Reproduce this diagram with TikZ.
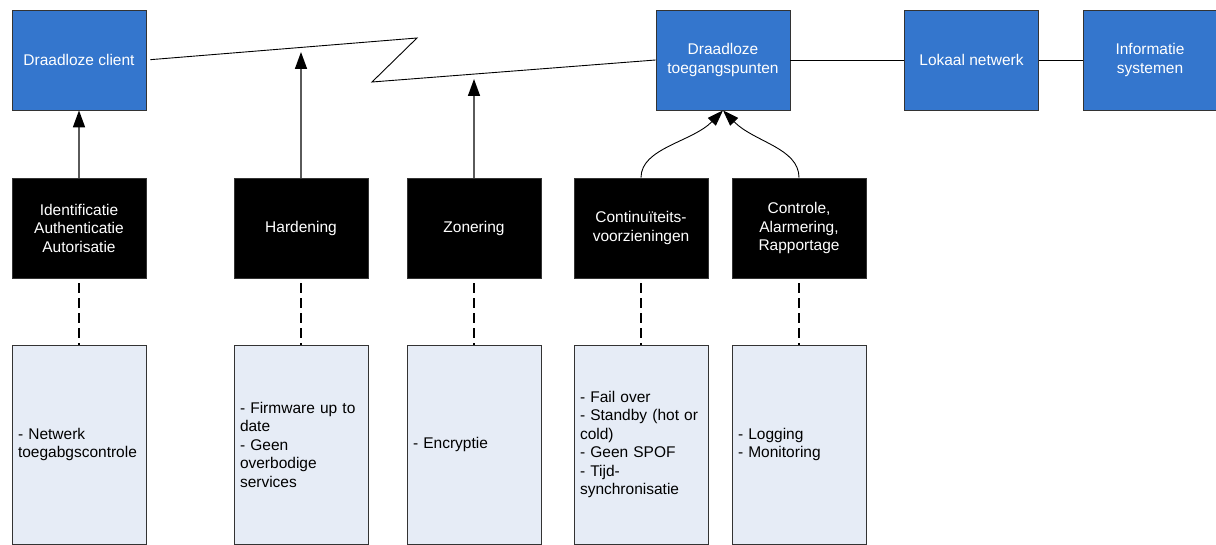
\documentclass[tikz,border=0pt]{standalone}
\usepackage{fontspec}
\setmainfont{Liberation Sans}
\usetikzlibrary{arrows.meta}
\definecolor{netblue}{HTML}{3476CD}
\definecolor{notefill}{HTML}{E6ECF6}
\definecolor{linkgray}{HTML}{5A5A5A}
\begin{document}
\begin{tikzpicture}[x=1pt,y=-1pt,
  box/.style={rectangle, minimum width=134pt, minimum height=100pt, inner sep=0pt,
    draw=black!80, line width=0.8pt, align=center,
    font=\fontsize{15.5}{18.5}\selectfont},
  bluebox/.style={box, fill=netblue, text=white},
  blackbox/.style={box, fill=black, text=white},
  notebox/.style={box, fill=notefill, text=black, minimum height=199pt,
    align=left, text width=122pt, inner xsep=6pt},
  wire/.style={draw=black, line width=0.9pt},
  uplink/.style={draw=linkgray, line width=1.6pt,
    -{Triangle[length=17pt,width=12pt,color=black]}},
  curvelink/.style={draw=black, line width=0.9pt,
    -{Triangle[length=16pt,width=11pt,color=black]}},
  dashlink/.style={draw=black, line width=2pt, dash pattern=on 10pt off 5pt,
    shorten <=5pt}
]
\useasboundingbox (0,0) rectangle (1216,545);

% network chain
\node[bluebox] (dc) at (79,60) {Draadloze client};
\node[bluebox] (ap) at (723,60) {Draadloze\\toegangspunten};
\node[bluebox] (ln) at (971.5,60) {Lokaal netwerk};
\node[bluebox] (is) at (1150,60) {Informatie\\systemen};

% wireless zigzag link
\coordinate (z1) at (417,38);
\coordinate (z2) at (372,82);
\draw[wire, shorten <=4pt] (dc.east) -- (z1) -- (z2) -- (ap.west);
\draw[wire] (ap.east) -- (ln.west);
\draw[wire] (ln.east) -- (is.west);

% measures
\node[blackbox] (b1) at (79,228) {Identificatie\\Authenticatie\\Autorisatie};
\node[blackbox] (b2) at (301,228) {Hardening};
\node[blackbox] (b3) at (474,228) {Zonering};
\node[blackbox] (b4) at (641,228) {Continuïteits-\\voorzieningen};
\node[blackbox] (b5) at (799,228) {Controle,\\Alarmering,\\Rapportage};

% details
\node[notebox] (n1) at (79,444.5) {- Netwerk\\toegabgscontrole};
\node[notebox] (n2) at (301,444.5) {- Firmware up to\\date\\- Geen\\overbodige\\services};
\node[notebox] (n3) at (474,444.5) {- Encryptie};
\node[notebox] (n4) at (641,444.5) {- Fail over\\- Standby (hot or\\cold)\\- Geen SPOF\\- Tijd-\\synchronisatie};
\node[notebox] (n5) at (799,444.5) {- Logging\\- Monitoring};

% arrows from measures to what they protect
\coordinate (hz) at (301,52);
\coordinate (zz) at (474,79);
\draw[uplink] (b1.north) -- (dc.south);
\draw[uplink] (b2.north) -- (hz);
\draw[uplink] (b3.north) -- (zz);
\draw[curvelink] (b4.north) .. controls (641,148) and (692,142) .. (ap.south);
\draw[curvelink] (b5.north) .. controls (799,148) and (754,142) .. (ap.south);

% dashed links to details
\foreach \i in {1,...,5} {
  \draw[dashlink] (b\i.south) -- (n\i.north);
}
\end{tikzpicture}
\end{document}
